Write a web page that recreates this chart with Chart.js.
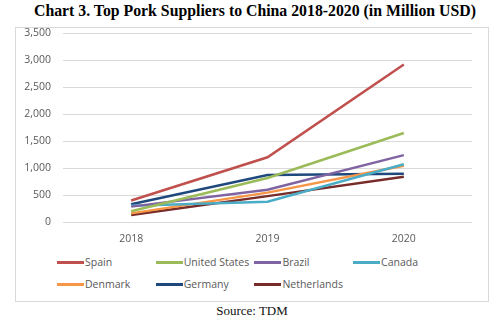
<!DOCTYPE html>
<html>
<head>
<meta charset="utf-8">
<script src="https://cdn.jsdelivr.net/npm/chart.js@4/dist/chart.umd.min.js"></script>
<style>
  body { margin: 0; background: #fff; width: 500px; height: 322px; position: relative; overflow: hidden; }
  #titulo { position: absolute; left: 0; top: 2px; width: 510px; text-align: center;
    font: bold 15.8px "Liberation Serif", "Times New Roman", serif; color: #000; }
  #caja { position: absolute; left: 15px; top: 27px; width: 472px; height: 273px; border: 1px solid #d9d9d9; }
  #lienzo { position: absolute; left: 0; top: -13px; }
  #leyenda { position: absolute; left: 41px; top: 223px; width: 420px;
    font: 10.5px "Open Sans", "Noto Sans", sans-serif; color: #595959; }
  .fila { display: flex; height: 22px; align-items: center; }
  .item { width: 98.7px; display: flex; align-items: center; white-space: nowrap; }
  .item span.linea { display: inline-block; width: 27px; height: 3px; margin-right: 1px; }
  #fuente { position: absolute; left: 0; top: 303px; width: 504px; text-align: center;
    font: 13px "Liberation Serif", "Times New Roman", serif; color: #111; }
</style>
</head>
<body>
<div id="titulo">Chart 3. Top Pork Suppliers to China 2018-2020 (in Million USD)</div>
<div id="caja">
  <canvas id="lienzo" width="472" height="236"></canvas>
  <div id="leyenda"></div>
</div>
<div id="fuente">Source: TDM</div>
<script>
const anios = ["2018", "2019", "2020"];
const paises = ["Spain", "United States", "Brazil", "Canada", "Denmark", "Germany", "Netherlands"];
const colores = ["#C0504D", "#9BBB59", "#8064A2", "#4BACC6", "#F79646", "#1F497D", "#772C2A"];

const spain = [400, 1200, 2920];
const unitedStates = [200, 815, 1650];
const brazil = [285, 600, 1240];
const canada = [300, 375, 1070];
const denmark = [160, 545, 1045];
const germany = [330, 870, 895];
const netherlands = [130, 480, 840];

const series = [spain, unitedStates, brazil, canada, denmark, germany, netherlands];

const datasets = paises.map((p, i) => ({
  label: p,
  data: series[i],
  borderColor: colores[i],
  backgroundColor: colores[i],
  borderWidth: 2.5,
  pointRadius: 0,
  tension: 0
}));

// leyenda en html, dos filas como en excel
const leyenda = document.getElementById("leyenda");
const filas = [paises.slice(0, 4), paises.slice(4)];
filas.forEach(fila => {
  const div = document.createElement("div");
  div.className = "fila";
  fila.forEach(p => {
    const i = paises.indexOf(p);
    const it = document.createElement("div");
    it.className = "item";
    it.innerHTML = `<span class="linea" style="background:${colores[i]}"></span>${p}`;
    div.appendChild(it);
  });
  leyenda.appendChild(div);
});

const ctx = document.getElementById("lienzo").getContext("2d");
new Chart(ctx, {
  type: "line",
  data: { labels: anios, datasets },
  options: {
    responsive: false,
    animation: false,
    layout: { padding: { top: 0, right: 16, left: 0, bottom: 0 } },
    plugins: { legend: { display: false }, tooltip: { enabled: false } },
    scales: {
      x: {
        offset: true,
        grid: { display: false },
        border: { display: false },
        ticks: { color: "#595959", font: { family: "Open Sans", size: 10.5 }, padding: 3 },
        afterFit: s => { s.height = 29; }
      },
      y: {
        min: 0,
        max: 3500,
        grid: { color: "#d9d9d9", drawTicks: false },
        border: { display: false },
        ticks: {
          stepSize: 500,
          color: "#595959",
          font: { family: "Open Sans", size: 10.5 },
          padding: 12,
          callback: v => v.toLocaleString("en-US")
        },
        afterFit: s => { s.width = 47; }
      }
    }
  }
});
</script>
</body>
</html>
